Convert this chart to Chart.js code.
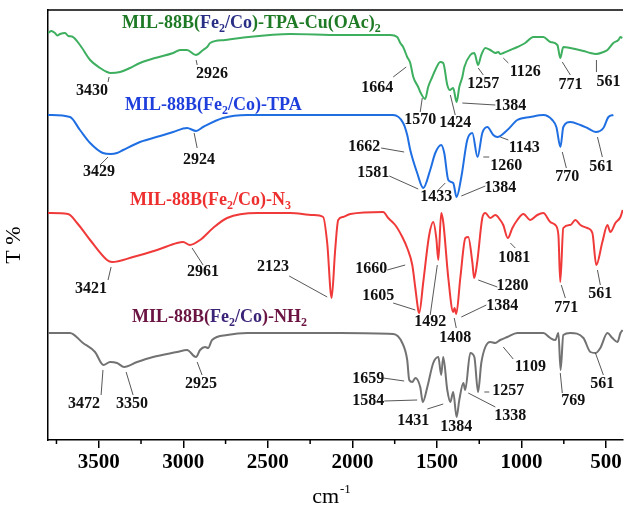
<!DOCTYPE html>
<html>
<head>
<meta charset="utf-8">
<title>FTIR spectra</title>
<script src="https://cdn.jsdelivr.net/npm/chart.js@4.4.1/dist/chart.umd.min.js"></script>
<style>
  html, body { margin: 0; padding: 0; background: #fff; }
  canvas { display: block; }
</style>
</head>
<body>
<canvas id="ftir" width="624" height="508"></canvas>
<script>
// wavenumbers (cm-1) and transmittance (offset, arbitrary units)
const cuWn = [3800, 3780, 3759, 3745, 3729, 3699, 3680, 3658, 3611, 3551, 3492, 3451, 3430, 3374, 3315, 3256, 3167, 3060, 3019, 2978, 2926, 2883, 2859, 2841, 2753, 2664, 2368, 2072, 1895, 1776, 1735, 1717, 1700, 1676, 1658, 1640, 1611, 1599, 1570, 1552, 1528, 1510, 1481, 1463, 1439, 1424, 1404, 1384, 1368, 1350, 1338, 1303, 1279, 1257, 1238, 1214, 1185, 1155, 1137, 1126, 1108, 1066, 1025, 978, 930, 871, 830, 788, 771, 753, 711, 634, 593, 561, 516, 492, 457, 427, 415, 404];
const cuT = [81.4, 81.8, 81.4, 80.9, 81.2, 81.4, 80.8, 80.7, 79.0, 76.0, 74.4, 73.6, 73.4, 73.6, 74.4, 75.4, 76.4, 77.4, 78.0, 78.0, 77.0, 78.0, 78.6, 79.4, 80.0, 80.4, 81.2, 81.0, 81.0, 81.0, 80.6, 79.4, 78.6, 76.6, 75.4, 72.6, 70.6, 69.6, 68.2, 70.6, 72.6, 74.0, 75.6, 75.4, 71.0, 70.0, 70.4, 67.6, 70.6, 72.6, 74.6, 77.0, 77.4, 75.0, 77.0, 78.4, 78.0, 77.4, 77.6, 77.2, 77.4, 78.0, 78.6, 79.4, 80.6, 80.6, 79.6, 79.0, 76.4, 78.6, 78.4, 77.8, 77.4, 77.2, 77.6, 78.0, 79.4, 80.0, 80.6, 80.4];

const tpaWn = [3800, 3670, 3611, 3551, 3475, 3429, 3392, 3356, 3256, 3137, 3060, 2978, 2924, 2883, 2765, 2622, 2072, 1759, 1700, 1676, 1658, 1617, 1581, 1540, 1510, 1475, 1457, 1433, 1404, 1384, 1356, 1321, 1291, 1260, 1232, 1202, 1167, 1143, 1084, 1025, 948, 871, 818, 794, 770, 753, 711, 652, 611, 561, 516, 486, 457];
const tpaT = [65.0, 64.6, 62.0, 59.4, 57.4, 57.2, 57.4, 58.0, 59.6, 60.8, 61.6, 62.4, 61.8, 62.6, 64.4, 65.0, 65.0, 65.0, 63.4, 61.0, 58.0, 53.4, 50.4, 54.0, 57.4, 59.0, 57.4, 52.0, 51.4, 48.6, 52.6, 60.0, 61.4, 56.6, 61.4, 62.6, 61.0, 60.6, 62.0, 64.0, 64.6, 65.0, 64.0, 62.6, 58.6, 62.6, 63.6, 63.0, 62.4, 61.6, 62.4, 64.6, 65.0];

const n3Wn = [3800, 3682, 3628, 3551, 3451, 3421, 3297, 3155, 3037, 3001, 2961, 2901, 2824, 2741, 2563, 2368, 2232, 2173, 2149, 2123, 2102, 2084, 2054, 2013, 1818, 1788, 1747, 1705, 1676, 1646, 1628, 1611, 1605, 1581, 1546, 1522, 1504, 1492, 1475, 1463, 1433, 1404, 1396, 1386, 1362, 1332, 1315, 1291, 1280, 1262, 1232, 1214, 1185, 1155, 1126, 1108, 1081, 1054, 1025, 989, 948, 907, 871, 830, 800, 782, 771, 753, 711, 682, 652, 611, 581, 558, 522, 492, 475, 445, 415, 402];
const n3T = [45.4, 45.2, 43.4, 40.0, 36.0, 35.6, 36.6, 38.0, 39.4, 39.6, 39.0, 40.0, 42.4, 44.4, 45.4, 45.4, 45.0, 44.6, 39.4, 28.4, 38.0, 44.0, 44.6, 45.2, 45.6, 44.4, 43.0, 40.6, 38.4, 35.0, 30.4, 26.0, 25.4, 31.6, 41.0, 43.6, 40.4, 36.0, 45.4, 43.6, 32.4, 25.6, 26.4, 25.2, 32.4, 40.4, 40.6, 35.6, 32.4, 35.6, 44.4, 45.4, 44.4, 45.0, 44.0, 43.0, 40.4, 42.4, 44.0, 45.2, 44.0, 45.0, 45.4, 43.6, 43.0, 41.0, 31.6, 42.4, 43.0, 44.0, 43.0, 42.4, 41.4, 35.0, 39.6, 43.0, 41.6, 43.4, 44.6, 46.0];

const nh2Wn = [3800, 3670, 3593, 3522, 3472, 3433, 3392, 3350, 3273, 3179, 3037, 2978, 2925, 2901, 2871, 2853, 2830, 2741, 2622, 2072, 1759, 1705, 1676, 1664, 1646, 1628, 1599, 1584, 1557, 1522, 1492, 1475, 1463, 1439, 1421, 1404, 1384, 1368, 1344, 1333, 1303, 1279, 1257, 1238, 1214, 1185, 1155, 1126, 1084, 1025, 948, 871, 830, 800, 782, 769, 753, 711, 634, 593, 561, 534, 492, 463, 433, 415, 402];
const nh2T = [21.4, 21.4, 19.4, 17.6, 15.0, 15.6, 15.4, 14.6, 15.6, 16.6, 17.6, 18.0, 16.6, 18.0, 18.6, 18.4, 20.0, 21.0, 21.4, 21.4, 21.2, 19.4, 16.0, 12.0, 11.6, 12.4, 10.6, 7.6, 10.6, 15.4, 16.6, 13.0, 16.6, 10.0, 7.6, 9.6, 4.6, 8.0, 11.4, 10.0, 17.4, 16.6, 9.6, 15.4, 18.6, 19.6, 19.4, 20.0, 20.6, 21.4, 21.4, 21.4, 20.4, 20.0, 21.4, 14.0, 21.0, 21.4, 20.4, 17.6, 17.4, 18.4, 21.4, 20.4, 19.6, 21.4, 22.0];

const xTicks = [3500, 3000, 2500, 2000, 1500, 1000, 500];
const xMinor = [3750, 3250, 2750, 2250, 1750, 1250, 750];

// peak labels: text, text x/y, leader line from (x1,y1) to (x2,y2), all in data units
const peakLabels = [
  ['3430', 3540, 69.8, 3439, 72.6, 3445, 71.6],
  ['2926', 2830, 73.2, 2924, 76.0, 2918, 75.0],
  ['1664', 1853, 70.4, 1682, 74.6, 1759, 72.6],
  ['1570', 1599, 64.0, 1587, 68.4, 1599, 65.6],
  ['1424', 1392, 63.4, 1421, 69.0, 1392, 65.0],
  ['1384', 1066, 66.8, 1350, 67.4, 1155, 67.0],
  ['1257', 1226, 71.2, 1256, 74.4, 1226, 73.0],
  ['1126', 978, 73.6, 1108, 76.4, 1078, 75.4],
  ['771', 711, 71.0, 759, 75.6, 711, 73.0],
  ['561', 486, 71.6, 557, 76.0, 557, 73.6],

  ['3429', 3498, 53.6, 3445, 56.6, 3492, 55.0],
  ['2924', 2907, 56.0, 2936, 61.4, 2918, 58.4],
  ['1662', 1930, 58.6, 1830, 58.4, 1694, 57.6],
  ['1581', 1877, 53.4, 1782, 52.8, 1611, 50.2],
  ['1433', 1504, 48.6, 1492, 50.0, 1451, 51.4],
  ['1384', 1126, 50.4, 1356, 48.8, 1214, 50.8],
  ['1260', 1090, 54.8, 1226, 56.6, 1191, 56.6],
  ['1143', 984, 58.4, 1126, 60.6, 1078, 60.0],
  ['770', 729, 52.6, 759, 57.6, 735, 54.4],
  ['561', 528, 54.6, 551, 60.6, 522, 56.6],

  ['3421', 3546, 30.2, 3427, 34.6, 3445, 32.0],
  ['2961', 2883, 33.6, 2948, 38.4, 2883, 35.0],
  ['2123', 2469, 34.6, 2374, 32.8, 2149, 28.6],
  ['1660', 1889, 34.2, 1794, 34.0, 1688, 35.0],
  ['1605', 1847, 28.8, 1759, 27.4, 1628, 26.0],
  ['1492', 1540, 23.6, 1498, 35.0, 1540, 25.0],
  ['1384', 1114, 26.8, 1356, 24.6, 1208, 27.0],
  ['1408', 1392, 20.4, 1398, 24.4, 1386, 22.4],
  ['1280', 1054, 30.8, 1256, 32.0, 1143, 30.6],
  ['1081', 1043, 36.4, 1066, 39.4, 1037, 38.4],
  ['771', 735, 26.4, 765, 31.0, 741, 28.4],
  ['561', 534, 29.2, 551, 34.0, 534, 31.0],

  ['3472', 3587, 7.2, 3475, 14.0, 3486, 9.0],
  ['3350', 3303, 7.2, 3338, 13.6, 3297, 9.0],
  ['2925', 2895, 11.2, 2918, 15.6, 2889, 13.0],
  ['1659', 1907, 12.2, 1818, 12.4, 1694, 11.8],
  ['1584', 1907, 7.8, 1812, 7.8, 1617, 8.0],
  ['1431', 1640, 3.8, 1557, 6.2, 1463, 7.2],
  ['1384', 1386, 2.6, null, null, null, null],
  ['1338', 1066, 4.8, 1315, 9.4, 1155, 6.6],
  ['1257', 1078, 9.8, 1220, 9.6, 1191, 9.6],
  ['1109', 948, 14.6, 1108, 18.6, 1049, 16.2],
  ['769', 694, 7.8, 771, 13.4, 759, 9.4],
  ['561', 522, 11.2, 563, 17.4, 516, 13.0]
];

// sample names, drawn as coloured pieces; 'sub' pieces are subscripts
const seriesTitles = [
  { x: 3362, y: 82.4, parts: [['MIL-88B(', '#1f7a26'], ['Fe', '#2a2f86'], ['2', '#2a2f86', 'sub'], ['/Co', '#2a2f86'], [')-TPA-Cu(OAc)', '#1f7a26'], ['2', '#1f7a26', 'sub']] },
  { x: 3344, y: 66.0, parts: [['MIL-88B(Fe', '#1f3fdc'], ['2', '#1f3fdc', 'sub'], ['/Co)-TPA', '#1f3fdc']] },
  { x: 3315, y: 47.0, parts: [['MIL-88B(Fe', '#ee2f2f'], ['2', '#ee2f2f', 'sub'], ['/Co)-N', '#ee2f2f'], ['3', '#ee2f2f', 'sub']] },
  { x: 3303, y: 23.6, parts: [['MIL-88B(', '#6b1443'], ['Fe', '#3b2378'], ['2', '#3b2378', 'sub'], ['/Co', '#3b2378'], [')-NH', '#6b1443'], ['2', '#6b1443', 'sub']] }
];

const pts = (wn, t) => wn.map((w, i) => ({ x: w, y: t[i] }));
const SERIF = '"Liberation Serif", "Times New Roman", serif';

const drawExtras = {
  id: 'drawExtras',
  afterDatasetsDraw(chart) {
    const { ctx, chartArea, scales: { x, y } } = chart;
    ctx.save();

    // frame top
    ctx.strokeStyle = '#000';
    ctx.lineWidth = 1.5;
    ctx.beginPath();
    ctx.moveTo(chartArea.left, chartArea.top);
    ctx.lineTo(chartArea.right, chartArea.top);
    ctx.stroke();

    // minor ticks
    xMinor.forEach(v => {
      const px = x.getPixelForValue(v);
      ctx.beginPath();
      ctx.moveTo(px, chartArea.bottom);
      ctx.lineTo(px, chartArea.bottom + 4);
      ctx.stroke();
    });

    // peak labels + leader lines
    ctx.strokeStyle = '#444';
    ctx.lineWidth = 0.9;
    ctx.fillStyle = '#111';
    ctx.font = 'bold 16px ' + SERIF;
    ctx.textAlign = 'center';
    ctx.textBaseline = 'middle';
    peakLabels.forEach(([txt, tx, ty, x1, y1, x2, y2]) => {
      if (x1 !== null) {
        ctx.beginPath();
        ctx.moveTo(x.getPixelForValue(x1), y.getPixelForValue(y1));
        ctx.lineTo(x.getPixelForValue(x2), y.getPixelForValue(y2));
        ctx.stroke();
      }
      ctx.fillText(txt, x.getPixelForValue(tx), y.getPixelForValue(ty));
    });

    // sample names
    ctx.textAlign = 'left';
    ctx.textBaseline = 'alphabetic';
    seriesTitles.forEach(s => {
      let px = x.getPixelForValue(s.x);
      const py = y.getPixelForValue(s.y);
      s.parts.forEach(([txt, col, kind]) => {
        ctx.fillStyle = col;
        if (kind === 'sub') {
          ctx.font = 'bold 12px ' + SERIF;
          ctx.fillText(txt, px, py + 4);
        } else {
          ctx.font = 'bold 18px ' + SERIF;
          ctx.fillText(txt, px, py);
        }
        px += ctx.measureText(txt).width;
      });
    });

    // axis titles
    ctx.fillStyle = '#000';
    ctx.font = '22px ' + SERIF;
    const cmW = ctx.measureText('cm').width;
    ctx.font = '13px ' + SERIF;
    const supW = ctx.measureText('-1').width;
    let cx = 331 - (cmW + supW) / 2;
    ctx.font = '22px ' + SERIF;
    ctx.fillText('cm', cx, 503);
    ctx.font = '13px ' + SERIF;
    ctx.fillText('-1', cx + cmW + 1, 493);

    ctx.translate(20, 245);
    ctx.rotate(-Math.PI / 2);
    ctx.textAlign = 'center';
    ctx.font = '22px ' + SERIF;
    ctx.fillText('T %', 0, 0);
    ctx.restore();
  }
};

const line = (data, color) => ({
  data: data,
  borderColor: color,
  borderWidth: 2,
  pointRadius: 0,
  cubicInterpolationMode: 'monotone',
  fill: false
});

new Chart(document.getElementById('ftir'), {
  type: 'line',
  data: {
    datasets: [
      line(pts(cuWn, cuT), '#3daf5f'),
      line(pts(tpaWn, tpaT), '#1f6fe3'),
      line(pts(n3Wn, n3T), '#f03a3a'),
      line(pts(nh2Wn, nh2T), '#727272')
    ]
  },
  options: {
    responsive: false,
    animation: false,
    layout: { padding: { top: 10, right: 1, left: 0, bottom: 0 } },
    plugins: { legend: { display: false }, tooltip: { enabled: false } },
    scales: {
      x: {
        type: 'linear',
        reverse: true,
        min: 400,
        max: 3800,
        afterBuildTicks: axis => { axis.ticks = xTicks.map(v => ({ value: v })); },
        afterFit: axis => { axis.height = 68; },
        ticks: {
          color: '#000',
          padding: 2,
          maxRotation: 0,
          callback: v => String(v),
          font: { family: SERIF, size: 21, weight: 'bold' }
        },
        grid: { drawOnChartArea: false, drawTicks: true, tickLength: 8, tickColor: '#000', lineWidth: 1.5 },
        border: { display: true, color: '#000', width: 1.5 }
      },
      y: {
        min: 0,
        max: 86,
        afterFit: axis => { axis.width = 48; },
        ticks: { display: false },
        grid: { display: false },
        border: { display: true, color: '#000', width: 1.5 }
      }
    }
  },
  plugins: [drawExtras]
});
</script>
</body>
</html>
